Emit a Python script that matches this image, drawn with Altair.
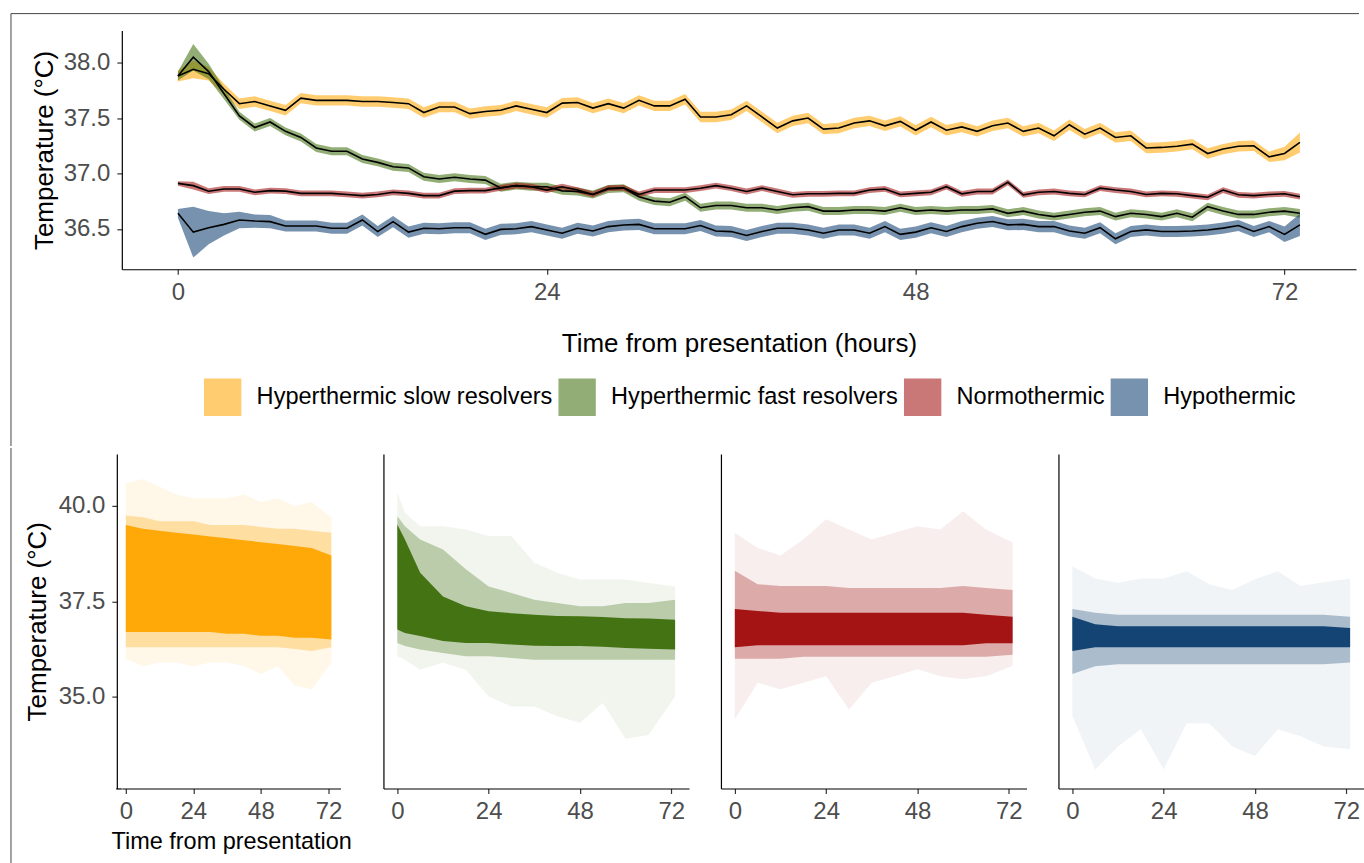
import altair as alt
import pandas as pd

# ---------------- data ----------------
GROUPS = ["Hyperthermic slow resolvers", "Hyperthermic fast resolvers", "Normothermic", "Hypothermic"]
COLORS = ["#FFA500", "#3D6E0B", "#A00C0C", "#0B3D6E"]
HOURS = list(range(74))

slow_mean = [37.88, 37.94, 37.90, 37.76, 37.63, 37.65, 37.61, 37.57, 37.68, 37.66,
             37.66, 37.66, 37.65, 37.65, 37.64, 37.63, 37.55, 37.60, 37.60, 37.54,
             37.56, 37.57, 37.61, 37.58, 37.55, 37.635, 37.64, 37.59, 37.63, 37.59,
             37.66, 37.61, 37.61, 37.67, 37.51, 37.51, 37.53, 37.61, 37.51, 37.41,
             37.475, 37.50, 37.40, 37.41, 37.455, 37.475, 37.43, 37.47, 37.39, 37.465,
             37.39, 37.42, 37.38, 37.43, 37.455, 37.38, 37.41, 37.34, 37.44, 37.355,
             37.41, 37.325, 37.34, 37.23, 37.235, 37.245, 37.265, 37.18, 37.22, 37.245,
             37.25, 37.15, 37.18, 37.28]
slow_hw = [0.05, 0.08, 0.06, 0.05] + [0.047] * 68 + [0.06, 0.09]

fast_mean = [37.88, 38.05, 37.92, 37.72, 37.52, 37.415, 37.465, 37.38, 37.325, 37.23,
             37.20, 37.20, 37.13, 37.10, 37.06, 37.05, 36.97, 36.95, 36.965, 36.95,
             36.94, 36.87, 36.89, 36.88, 36.88, 36.843, 36.837, 36.81, 36.86, 36.867,
             36.79, 36.75, 36.74, 36.79, 36.69, 36.71, 36.71, 36.69, 36.69, 36.67,
             36.69, 36.70, 36.66, 36.66, 36.67, 36.67, 36.66, 36.69, 36.66, 36.67,
             36.66, 36.67, 36.67, 36.68, 36.64, 36.66, 36.63, 36.61, 36.63, 36.65,
             36.66, 36.61, 36.64, 36.63, 36.61, 36.64, 36.605, 36.70, 36.66, 36.63,
             36.63, 36.65, 36.66, 36.64]
fast_hw = [0.04, 0.12, 0.07, 0.05] + [0.036] * 69 + [0.04]

normo_mean = [36.91, 36.89, 36.84, 36.86, 36.86, 36.83, 36.845, 36.84, 36.82, 36.82,
              36.82, 36.81, 36.80, 36.81, 36.83, 36.82, 36.80, 36.80, 36.84, 36.845,
              36.845, 36.87, 36.89, 36.88, 36.85, 36.88, 36.85, 36.81, 36.867, 36.87,
              36.81, 36.85, 36.85, 36.85, 36.867, 36.89, 36.867, 36.837, 36.867, 36.837,
              36.807, 36.816, 36.816, 36.82, 36.82, 36.85, 36.86, 36.81, 36.82, 36.83,
              36.88, 36.816, 36.837, 36.837, 36.92, 36.807, 36.83, 36.837, 36.82, 36.81,
              36.867, 36.85, 36.837, 36.81, 36.82, 36.816, 36.80, 36.785, 36.85, 36.807,
              36.80, 36.81, 36.816, 36.79]
normo_hw = [0.02, 0.035] + [0.026] * 72

hypo_mean = [36.64, 36.47, 36.51, 36.54, 36.58, 36.57, 36.565, 36.525, 36.525, 36.525,
             36.505, 36.505, 36.58, 36.475, 36.565, 36.47, 36.505, 36.50, 36.51, 36.51,
             36.45, 36.495, 36.50, 36.52, 36.49, 36.46, 36.505, 36.48, 36.52, 36.535,
             36.54, 36.50, 36.50, 36.50, 36.53, 36.48, 36.475, 36.44, 36.475, 36.505,
             36.505, 36.49, 36.46, 36.49, 36.49, 36.46, 36.52, 36.45, 36.47, 36.51,
             36.476, 36.52, 36.55, 36.566, 36.536, 36.54, 36.52, 36.52, 36.48, 36.46,
             36.51, 36.41, 36.476, 36.49, 36.476, 36.476, 36.48, 36.49, 36.506, 36.53,
             36.476, 36.52, 36.45, 36.536]
hypo_hw = [0.04, 0.23, 0.15, 0.10, 0.075, 0.06, 0.06] + [0.05] * 65 + [0.07, 0.10]

MEANS = [slow_mean, fast_mean, normo_mean, hypo_mean]
HWS = [slow_hw, fast_hw, normo_hw, hypo_hw]

# envelopes of the individual trajectories (bottom row): outer / dense / core
ENV = {
    "Hyperthermic slow resolvers": dict(
        t=[0, 6, 12, 18, 24, 30, 36, 42, 48, 54, 60, 66, 73],
        olo=[36.0, 35.8, 35.9, 35.9, 35.8, 35.9, 35.9, 35.8, 35.6, 35.8, 35.3, 35.2, 35.9],
        ohi=[40.6, 40.7, 40.5, 40.3, 40.2, 40.2, 40.2, 40.3, 40.1, 40.2, 40.0, 40.1, 39.7],
        mlo=[36.3, 36.3, 36.3, 36.3, 36.3, 36.3, 36.3, 36.3, 36.3, 36.3, 36.25, 36.2, 36.3],
        mhi=[39.75, 39.7, 39.6, 39.6, 39.6, 39.5, 39.5, 39.5, 39.45, 39.4, 39.4, 39.35, 39.3],
        clo=[36.7, 36.7, 36.7, 36.7, 36.7, 36.7, 36.65, 36.65, 36.6, 36.6, 36.55, 36.55, 36.5],
        chi=[39.5, 39.4, 39.35, 39.3, 39.25, 39.2, 39.15, 39.1, 39.05, 39.0, 38.95, 38.9, 38.7]),
    "Hyperthermic fast resolvers": dict(
        t=[0, 2, 6, 12, 18, 24, 30, 36, 42, 48, 54, 60, 66, 73],
        olo=[36.06, 35.97, 35.71, 35.89, 35.71, 35.01, 34.75, 34.75, 34.49, 34.32, 34.84, 33.9, 34.0, 35.01],
        ohi=[40.35, 39.82, 39.47, 39.47, 39.38, 39.21, 39.21, 38.51, 38.25, 38.07, 38.07, 38.07, 37.98, 37.89],
        mlo=[36.41, 36.33, 36.24, 36.15, 36.06, 36.06, 36.02, 35.97, 35.97, 35.97, 35.97, 35.97, 35.97, 35.97],
        mhi=[39.73, 39.47, 39.12, 38.86, 38.34, 37.89, 37.72, 37.54, 37.46, 37.37, 37.37, 37.46, 37.46, 37.54],
        clo=[36.76, 36.67, 36.59, 36.46, 36.41, 36.41, 36.37, 36.34, 36.33, 36.33, 36.31, 36.28, 36.26, 36.24],
        chi=[39.51, 39.12, 38.25, 37.63, 37.37, 37.24, 37.19, 37.15, 37.12, 37.11, 37.09, 37.06, 37.05, 37.02]),
    "Normothermic": dict(
        t=[0, 6, 12, 18, 24, 30, 36, 42, 48, 54, 60, 66, 73],
        olo=[34.41, 35.37, 35.2, 35.37, 35.54, 34.67, 35.37, 35.54, 35.72, 35.54, 35.46, 35.54, 35.81],
        ohi=[39.30, 38.9, 38.7, 39.12, 39.65, 39.38, 39.12, 39.3, 39.47, 39.38, 39.86, 39.38, 39.04],
        mlo=[36.0, 36.0, 36.0, 36.05, 36.05, 36.05, 36.05, 36.05, 36.05, 36.05, 36.05, 36.05, 36.1],
        mhi=[38.3, 37.95, 37.9, 37.9, 37.9, 37.85, 37.85, 37.85, 37.85, 37.85, 37.9, 37.85, 37.8],
        clo=[36.3, 36.35, 36.35, 36.35, 36.35, 36.35, 36.35, 36.35, 36.35, 36.35, 36.35, 36.4, 36.4],
        chi=[37.3, 37.25, 37.2, 37.2, 37.2, 37.2, 37.2, 37.2, 37.2, 37.2, 37.2, 37.15, 37.1]),
    "Hypothermic": dict(
        t=[0, 6, 12, 18, 24, 30, 36, 42, 48, 54, 60, 66, 73],
        olo=[34.5, 33.1, 33.7, 34.15, 33.1, 34.3, 34.3, 33.7, 33.45, 34.15, 33.97, 33.7, 33.63],
        ohi=[38.42, 38.1, 37.99, 38.1, 38.1, 38.29, 37.95, 37.8, 38.08, 38.29, 37.9, 38.0, 38.1],
        mlo=[35.6, 35.8, 35.85, 35.85, 35.85, 35.85, 35.85, 35.85, 35.85, 35.85, 35.85, 35.85, 35.9],
        mhi=[37.3, 37.2, 37.15, 37.15, 37.15, 37.15, 37.15, 37.15, 37.15, 37.15, 37.15, 37.15, 37.1],
        clo=[36.2, 36.3, 36.3, 36.3, 36.3, 36.3, 36.3, 36.3, 36.3, 36.3, 36.3, 36.3, 36.3],
        chi=[37.1, 36.9, 36.85, 36.85, 36.85, 36.85, 36.85, 36.85, 36.85, 36.85, 36.85, 36.85, 36.8]),
}
OUTER_OPACITY = [0.09, 0.07, 0.07, 0.06]

TICKS_X = [0, 24, 48, 72]
TICKS_Y_TOP = [36.5, 37.0, 37.5, 38.0]
TICKS_Y_BOTTOM = [35.0, 37.5, 40.0]

# ---------------- tables ----------------
rows = []
for g, m, hw in zip(GROUPS, MEANS, HWS):
    for t, v, h in zip(HOURS, m, hw):
        rows.append(dict(group=g, t=t, mean=v, lo=v - h, hi=v + h))
top_df = pd.DataFrame(rows)
one = pd.DataFrame({"k": [0]})

FONT = "Liberation Sans"
XDOM = [-3.65, 76.65]
XDOM_FIRST = [-1.42, 76.26]
FRAME = "#444444"

# ---------------- top panel ----------------
xs = alt.Scale(domain=XDOM, nice=False, zero=False)
ys_top = alt.Scale(domain=[36.135, 38.29], nice=False, zero=False)
x_ax_top = alt.Axis(values=TICKS_X, title="Time from presentation (hours)", titleFontSize=26,
                    titlePadding=26, labelPadding=6)
y_ax_top = alt.Axis(values=TICKS_Y_TOP, format=".1f", title="Temperature (°C)", titleFontSize=26,
                    titlePadding=6, labelPadding=7)

ribbons = alt.Chart(top_df).mark_area(opacity=0.56).encode(
    x=alt.X("t:Q", scale=xs, axis=x_ax_top),
    y=alt.Y("lo:Q", scale=ys_top, axis=y_ax_top),
    y2="hi:Q",
    color=alt.Color("group:N", scale=alt.Scale(domain=GROUPS, range=COLORS),
                    sort=GROUPS,
                    legend=alt.Legend(orient="none", legendX=82, legendY=348, direction="horizontal",
                                      title=None, symbolType="square", symbolSize=1400,
                                      symbolStrokeWidth=0, labelFontSize=23.6, labelOffset=15,
                                      columnPadding=5, labelColor="black", labelFont=FONT,
                                      labelLimit=0)),
)
lines = alt.Chart(top_df).mark_line(color="black", strokeWidth=1.6).encode(
    x=alt.X("t:Q", scale=xs, axis=x_ax_top),
    y=alt.Y("mean:Q", scale=ys_top, axis=y_ax_top),
    detail="group:N",
)
frame_top_h = alt.Chart(one).mark_rule(color=FRAME, strokeWidth=1).encode(
    x=alt.value(-111), x2=alt.value(1239), y=alt.value(-17))
frame_top_v = alt.Chart(one).mark_rule(color=FRAME, strokeWidth=1).encode(
    x=alt.value(-111), y=alt.value(-17), y2=alt.value(416))

top = alt.layer(ribbons, lines, frame_top_h, frame_top_v).properties(width=1236, height=239)

# ---------------- bottom panels ----------------
ys_bot = alt.Scale(domain=[32.6, 41.36], nice=False, zero=False)
panels = []
for i, (g, col) in enumerate(zip(GROUPS, COLORS)):
    e = ENV[g]
    df = pd.DataFrame({k: e[k] for k in ["t", "olo", "ohi", "mlo", "mhi", "clo", "chi"]})
    if i == 0:
        xsc = alt.Scale(domain=XDOM_FIRST, nice=False, zero=False)
        xa = alt.Axis(values=TICKS_X, title="Time from presentation", titleFontSize=23.5,
                      titlePadding=6, labelPadding=6)
        ya = alt.Axis(values=TICKS_Y_BOTTOM, format=".1f", title="Temperature (°C)",
                      titleFontSize=26, titlePadding=8, labelPadding=7, offset=5)
        w = 219
    else:
        xsc = xs
        xa = alt.Axis(values=TICKS_X, title=None, labelPadding=6)
        ya = alt.Axis(labels=False, ticks=False, title=None)
        w = 306
    base = alt.Chart(df)
    layers = []
    for lo, hi, op in [("olo", "ohi", OUTER_OPACITY[i]), ("mlo", "mhi", 0.3), ("clo", "chi", 0.95)]:
        layers.append(base.mark_area(color=col, opacity=op).encode(
            x=alt.X("t:Q", scale=xsc, axis=xa),
            y=alt.Y(f"{lo}:Q", scale=ys_bot, axis=ya),
            y2=f"{hi}:Q"))
    if i == 0:
        layers.append(alt.Chart(one).mark_rule(color=FRAME, strokeWidth=1).encode(
            x=alt.value(-111), y=alt.value(-6), y2=alt.value(410)))
        # x-axis line continued to the offset y-axis
        layers.append(alt.Chart(one).mark_rule(color="black", strokeWidth=1.2).encode(
            x=alt.value(-5.6), x2=alt.value(0), y=alt.value(335.5)))
    else:
        layers.append(alt.Chart(one).mark_rule(color="white", strokeWidth=1).encode(
            x=alt.value(150), y=alt.value(-6), y2=alt.value(-5)))
    panels.append(alt.layer(*layers).properties(width=w, height=335))

bottom = alt.hconcat(*panels, spacing=32)

chart = alt.vconcat(top, bottom, spacing=0).properties(
    padding={"left": 10, "top": 12, "right": 0, "bottom": 0}
).configure(font=FONT).configure_view(stroke=None).configure_axis(
    grid=False, domainColor="black", domainWidth=1.2, tickColor="#333333", tickWidth=1.2,
    tickSize=5, labelColor="#4D4D4D", labelFontSize=24, labelFont=FONT, titleFont=FONT,
    titleColor="black", titleFontWeight="normal"
)

chart.save("out.html", embed_options={"renderer": "svg", "actions": False})
